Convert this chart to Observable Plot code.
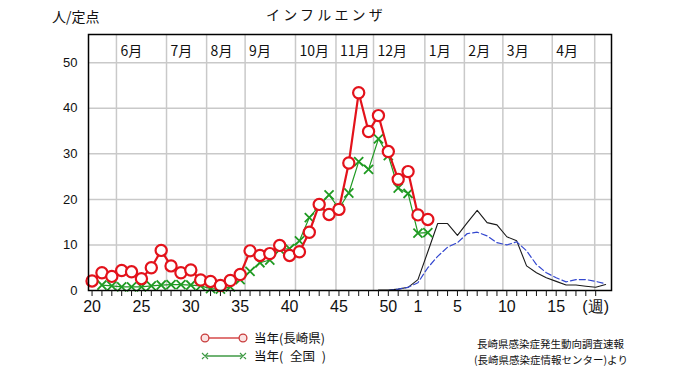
<!DOCTYPE html>
<html><head><meta charset="utf-8">
<script src="https://cdn.jsdelivr.net/npm/d3@7"></script>
<script src="https://cdn.jsdelivr.net/npm/@observablehq/plot@0.6"></script>
<style>
body{margin:0;background:#fff;}
#wrap{position:relative;width:680px;height:382px;font-family:"Noto Sans CJK JP",sans-serif;color:#111;overflow:hidden;}
.abs{position:absolute;white-space:pre;line-height:normal;}
</style></head><body><div id="wrap"></div>
<script>
// week order of the season (category axis)
const weeks = ["20","21","22","23","24","25","26","27","28","29","30","31","32","33","34","35","36","37","38","39","40","41","42","43","44","45","46","47","48","49","50","51","52","1","2","3","4","5","6","7","8","9","10","11","12","13","14","15","16","17","18","19"];
const weekLabels = ["20","25","30","35","40","45","50","1","5","10","15"];
// 当年(長崎県), from week 20
const nagasaki = [2.1,3.9,3.1,4.4,4.1,2.6,5.0,8.8,5.4,3.9,4.5,2.3,2.0,1.1,2.2,3.5,8.7,7.7,8.1,9.9,7.7,8.5,12.8,18.9,16.7,17.8,28.0,43.4,34.9,38.4,30.5,24.4,26.1,16.6,15.6];
// 当年(全国), from week 21
const nationalStart = "21";
const national = [1.2,1.0,0.8,0.8,0.8,1.0,1.2,1.3,1.3,1.2,1.0,0.4,0.3,0.8,2.4,4.2,6.1,6.7,9.0,9.2,10.9,16.0,18.6,21.0,18.0,21.4,28.3,26.6,33.3,29.6,22.5,21.3,12.6,12.7];
// previous season (black) and average (blue dashed), from week 49
const refStart = "49";
const previous = [0.1,0.1,0.3,0.7,2.4,8.5,14.7,14.7,12.1,14.9,17.6,14.9,14.4,11.8,10.9,5.4,3.9,2.8,2.0,1.2,1.2,0.95,0.7,1.3];
const average = [0.0,0.0,0.3,0.7,1.7,5.0,7.5,9.5,10.5,12.5,12.8,12.0,10.5,10.0,10.7,8.7,5.7,3.9,2.8,1.9,2.4,2.4,2.0,1.5];
// month names and month start positions (in weeks from week 20)
const monthNames = ["6月","7月","8月","9月","10月","11月","12月","1月","2月","3月","4月"];
const monthStarts = [2.47,7.54,11.6,15.5,20.6,24.7,28.5,33.7,37.7,41.6,46.6,50.9];
const yTicks = [0,10,20,30,40,50];
const yLabel = "人/定点";
const title = "インフルエンザ";
const unitLabel = "(週)";
const legendNames = ["当年(長崎県)","当年( 全国 )"];
const caption = ["長崎県感染症発生動向調査速報","(長崎県感染症情報センター)より"];

const pos = w => weeks.indexOf(w);
const series = (vals, start) => vals.map((v,k)=>({i: pos(start)+k, v}));
const nagData = series(nagasaki, "20");
const natData = series(national, nationalStart);
const prevData = series(previous, refStart);
const avgData = series(average, refStart);
const labelSet = new Set(weekLabels.map(pos));
const idx = d3.range(weeks.length);

const RED="#e3121b", GREEN="#1f9a22", BLACK="#1a1a1a", BLUE="#3347cf", GRID="#c9c9c9";

const chart = Plot.plot({
  width:680, height:382,
  marginTop:34, marginBottom:92, marginLeft:88, marginRight:69,
  x:{domain:[-0.36, 52.6]},
  y:{domain:[0, 56.2]},
  style:{fontFamily:"'Noto Sans CJK JP', sans-serif", background:"transparent", color:"#111"},
  marks:[
    Plot.gridY(yTicks.filter(d=>d>0), {stroke:GRID, strokeOpacity:1, strokeWidth:1.5}),
    Plot.ruleX(monthStarts, {stroke:GRID, strokeWidth:1.5}),
    Plot.text(monthNames, {x:(d,i)=>monthStarts[i], text:d=>d, frameAnchor:"top", dy:12, dx:4, textAnchor:"start", fontSize:14, fill:"#111"}),
    Plot.line(prevData, {x:"i", y:"v", stroke:BLACK, strokeWidth:1.1}),
    Plot.line(avgData, {x:"i", y:"v", stroke:BLUE, strokeWidth:1.2, strokeDasharray:"6,3"}),
    Plot.line(natData, {x:"i", y:"v", stroke:GREEN, strokeWidth:1.2}),
    Plot.dot(natData, {x:"i", y:"v", symbol:"times", r:4.2, stroke:GREEN, strokeWidth:1.8}),
    Plot.line(nagData, {x:"i", y:"v", stroke:RED, strokeWidth:2.2}),
    Plot.dot(nagData, {x:"i", y:"v", r:5.6, fill:"white", stroke:RED, strokeWidth:2.2}),
    Plot.frame({stroke:"#000", strokeWidth:1.5}),
    Plot.axisY({ticks:yTicks, tickSize:0, tickPadding:11, fontSize:13, fontFamily:"'Liberation Sans', sans-serif", label:null}),
    Plot.axisX({ticks:idx, tickSize:6, tickPadding:4, fontSize:16, fontFamily:"'Liberation Sans', sans-serif", label:null,
      tickFormat:i => labelSet.has(i) ? weeks[i] : (i===weeks.length-1 ? unitLabel : "")})
  ]
});

const wrap = document.getElementById("wrap");
wrap.appendChild(chart);
chart.style.position="absolute"; chart.style.left="0"; chart.style.top="0";

// place a text so that its CJK glyph centre sits at (left, cy)
function addText(txt, left, cy, size, extra){
  const d=document.createElement("div"); d.className="abs"; d.textContent=txt;
  d.style.left=left+"px"; d.style.top=(cy - 0.78*size)+"px"; d.style.fontSize=size+"px";
  if(extra) Object.assign(d.style, extra);
  wrap.appendChild(d); return d;
}
addText(yLabel, 52, 17, 14);
addText(title, 266, 15, 14, {letterSpacing:"3.2px"});
addText(legendNames[0], 254, 337.5, 12.5);
addText(legendNames[1], 254, 356, 12.5, {wordSpacing:"4px"});
addText(caption[0], 477, 344.5, 10.5);
addText(caption[1], 474, 360, 10.5);

// legend swatches
const ns="http://www.w3.org/2000/svg";
const sw=document.createElementNS(ns,"svg");
sw.setAttribute("width","680"); sw.setAttribute("height","382");
sw.style.position="absolute"; sw.style.left="0"; sw.style.top="0";
sw.innerHTML = `
 <line x1="205" y1="338" x2="243" y2="338" stroke="#d64a4a" stroke-width="1.5"/>
 <circle cx="205" cy="338" r="3.9" fill="#fbe3e3" stroke="#c83c3c" stroke-width="1.3"/>
 <circle cx="243" cy="338" r="3.9" fill="#fbe3e3" stroke="#c83c3c" stroke-width="1.3"/>
 <line x1="205" y1="356" x2="243" y2="356" stroke="#3f9a45" stroke-width="1.3"/>
 <path d="M202,353 l6,6 M202,359 l6,-6 M240,353 l6,6 M240,359 l6,-6" stroke="#3f9a45" stroke-width="1.1"/>`;
wrap.appendChild(sw);
</script></body></html>
